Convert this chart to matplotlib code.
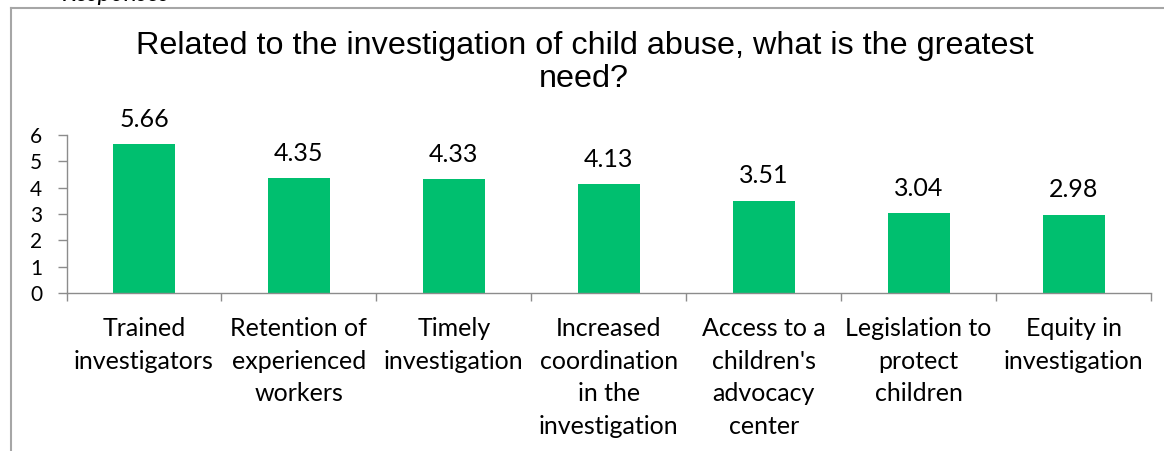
import numpy as np
import matplotlib.pyplot as plt
from matplotlib.lines import Line2D

title = 'Related to the investigation of child abuse, what is the greatest\nneed?'
categories = ['Trained\ninvestigators', 'Retention of\nexperienced\nworkers', 'Timely\ninvestigation',
              'Increased\ncoordination\nin the\ninvestigation', "Access to a\nchildren's\nadvocacy\ncenter",
              'Legislation to\nprotect\nchildren', 'Equity in\ninvestigation']
values = [5.66, 4.35, 4.33, 4.13, 3.51, 3.04, 2.98]
yticks = [0, 1, 2, 3, 4, 5, 6]

W, H = 1164, 451
grey = '#8C8C8C'

fig = plt.figure(figsize=(W / 100, H / 100), dpi=100)

# chart area frame (only left and top edges visible)
fig.add_artist(Line2D([11 / W, 11 / W], [0, 1 - 8 / H], transform=fig.transFigure, color='#A6A6A6', lw=1.5))
fig.add_artist(Line2D([11 / W, 1], [1 - 8 / H, 1 - 8 / H], transform=fig.transFigure, color='#A6A6A6', lw=1.5))

# caption above the frame, cut off by the image edge as in the original
fig.text(62 / W, 1 - 1 / H, 'Responses', fontsize=18, style='italic', family='Lato', va='baseline', ha='left')

fig.text(0.502, 1 - 31 / H, title, ha='center', va='top', fontsize=23.3,
         family='Liberation Sans', linespacing=1.12)

ax = fig.add_axes([66.5 / W, 1 - 293 / H, (1151 - 66.5) / W, 158 / H])
x = np.arange(len(values))
ax.bar(x, values, width=0.4, color='#00BF6F')
ax.set_xlim(-0.5, len(values) - 0.5)
ax.set_ylim(0, 6)

for xi, v in zip(x, values):
    ax.annotate(f'{v:.2f}', (xi, v), xytext=(0, 12.5), textcoords='offset points',
                ha='center', va='baseline', fontsize=18, family='Lato')

for s in ['top', 'right']:
    ax.spines[s].set_visible(False)
for s in ['left', 'bottom']:
    ax.spines[s].set_color(grey)
    ax.spines[s].set_linewidth(1)

ax.set_yticks(yticks)
ax.set_yticklabels([str(t) for t in yticks], fontsize=15, family='Lato')
ax.tick_params(axis='y', length=6.5, width=1, color=grey, pad=11)

ax.set_xticks(x)
ax.set_xticklabels(categories, fontsize=18, family='Lato', linespacing=1.5)
ax.tick_params(axis='x', which='major', length=0, pad=17.5)
ax.set_xticks(np.arange(-0.5, len(values)), minor=True)
ax.tick_params(axis='x', which='minor', length=6, width=1, color=grey)

fig.savefig('out.png', dpi=100)
